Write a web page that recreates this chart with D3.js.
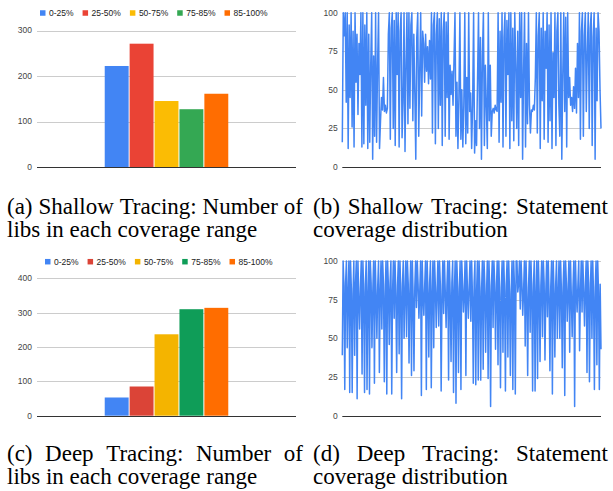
<!DOCTYPE html>
<html>
<head>
<meta charset="utf-8">
<script src="https://cdn.jsdelivr.net/npm/d3@7"></script>
<style>
  body { margin: 0; background: #fff; }
  svg { display: block; }
</style>
</head>
<body>
<script>
// ----- DATA -----
const seriesNames = ["0-25%", "25-50%", "50-75%", "75-85%", "85-100%"];
const shallowCounts = [222, 271, 145, 127, 161];
const deepCounts = [53, 85, 237, 310, 314];
const shallowColors = ["#4285F4", "#EA4335", "#FBBC04", "#34A853", "#FF6D01"];
const deepColors = ["#4285F4", "#DB4437", "#F4B400", "#0F9D58", "#FF6D00"];
const shallowTicks = [0, 100, 200, 300];
const deepTicks = [0, 100, 200, 300, 400];
const coverageTicks = [0, 25, 50, 75, 100];

// statement coverage per lib
const shallowCoverage = [
  16,100,85,100,42,
  100,12,92,45,100,26,88,13,100,55,
  86,34,80,60,
  100,13,100,15,92,40,100,12,
  86,16,66,100,5,72,20,
  100,16,66,100,12,30,45,
  37,58,36,40,35,38,
  86,100,18,90,100,25,95,14,100,
  60,100,13,88,100,19,42,100,10,67,100,28,
  100,38,92,100,30,86,48,
  5,84,100,20,62,100,33,88,
  80,55,86,62,78,54,82,57,
  100,22,92,100,15,86,100,25,96,40,100,14,88,100,20,94,45,100,18,66,
  47,62,40,70,
  100,20,55,12,45,100,18,50,13,40,100,15,58,22,100,36,48,12,40,100,9,30,14,56,
  100,25,
  84,5,72,100,14,66,
  40,12,100,30,66,20,
  36,38,35,40,37,36,
  100,16,88,42,100,13,84,100,20,95,60,100,12,
  100,30,90,17,100,66,25,88,14,100,
  45,100,5,62,100,13,80,28,100,40,22,
  37,36,40,37,58,
  100,22,85,100,12,90,43,100,18,88,64,100,16,92,30,100,
  12,74,45,100,14,88,100,40,20,
  100,5,60,100,36,97,13,100,45,
  58,40,45,36,52,38,64,35,80,45,
  100,18,88,100,20,85,100,36,74,100,25,90,
  100,14,84,100,5,90,43,100,
  88,50,25
];

const deepCoverage = [
  39,100,84,17,86,100,44,80,100,15,100,82,15,78,100,39,85,100,11,100,76,56,
  83,100,27,100,80,15,85,100,17,79,100,14,100,86,44,80,100,21,100,78,50,84,
  100,28,80,100,56,100,85,22,77,100,14,100,83,46,86,100,14,80,100,63,100,78,
  28,84,100,40,100,80,11,85,100,50,79,100,51,100,86,34,80,100,26,100,77,29,
  83,100,70,100,85,63,80,100,13,100,78,65,84,100,17,100,80,38,86,100,18,79,
  100,44,100,83,57,80,100,58,100,85,16,77,100,66,100,80,57,84,100,23,100,78,
  35,86,100,15,80,100,8,100,83,28,80,100,17,100,85,67,79,100,26,100,80,63,
  84,100,61,100,77,21,86,100,20,80,100,23,
  100,83,23,80,100,30,100,85,41,78,100,24,100,80,6,84,100,57,100,86,43,80,
  100,33,100,77,18,83,100,41,100,80,16,85,100,38,100,79,26,80,100,17,100,84,
  14,100,100,80,85,100,69,100,86,65,80,100,45,100,77,26,83,100,54,100,80,16,
  85,100,16,79,100,24,100,80,35,84,100,51,100,86,36,80,100,64,100,77,29,83,
  100,14,100,80,38,85,100,50,79,100,50,100,80,31,84,100,13,100,86,61,80,100,
  41,100,77,51,83,100,6,100,80,67,85,100,42,79,100,67,100,80,58,84,100,28,
  100,86,22,80,100,50,100,77,17,83,100,33,100,80,17,85,43
];

const captions = [
  ["(a) Shallow Tracing: Number of", "libs in each coverage range"],
  ["(b) Shallow Tracing: Statement", "coverage distribution"],
  ["(c) Deep Tracing: Number of", "libs in each coverage range"],
  ["(d) Deep Tracing: Statement", "coverage distribution"]
];

const W = 613, H = 491;
const sans = "'Liberation Sans', Arial, sans-serif";
const serif = "'Liberation Serif', 'Times New Roman', serif";

const svg = d3.select("body").append("svg")
  .attr("width", W).attr("height", H);

// ----- helpers -----
function yAxisGrid(g, yScale, ticks, x0, x1, labelX) {
  // gridlines
  g.selectAll(".grid").data(ticks).enter().append("line")
    .attr("x1", x0).attr("x2", x1)
    .attr("y1", d => Math.round(yScale(d)) + 0.5)
    .attr("y2", d => Math.round(yScale(d)) + 0.5)
    .attr("stroke", d => d === 0 ? "#333" : "#ccc")
    .attr("stroke-width", 1);
  // labels
  g.selectAll(".lab").data(ticks).enter().append("text")
    .attr("x", labelX)
    .attr("y", d => yScale(d))
    .attr("dy", "0.35em")
    .attr("text-anchor", "end")
    .attr("font-family", sans)
    .attr("font-size", 8.5)
    .attr("fill", "#444")
    .text(d => d);
}

function barChart(opts) {
  const g = svg.append("g");
  const y = d3.scaleLinear().domain(opts.yDomain).range(opts.yRange);
  yAxisGrid(g, y, opts.ticks, opts.x0, opts.x1, opts.labelX);

  // one category, five series, group centred in the plot
  const mid = (opts.x0 + opts.x1) / 2;
  const gw = (opts.x1 - opts.x0) * 0.477;
  const x = d3.scaleBand().domain(seriesNames)
    .range([mid - gw / 2, mid + gw / 2])
    .paddingInner(0.04);

  g.selectAll(".bar").data(opts.counts).enter().append("rect")
    .attr("x", (d, i) => x(seriesNames[i]))
    .attr("width", x.bandwidth())
    .attr("y", d => y(d))
    .attr("height", d => y(0) - y(d))
    .attr("fill", (d, i) => opts.colors[i]);

  // baseline on top of bars
  g.append("line")
    .attr("x1", opts.x0).attr("x2", opts.x1)
    .attr("y1", Math.round(y(0)) + 0.5).attr("y2", Math.round(y(0)) + 0.5)
    .attr("stroke", "#333");

  // legend
  const lg = g.append("g");
  let cx = opts.legendX;
  seriesNames.forEach((name, i) => {
    lg.append("rect")
      .attr("x", cx).attr("y", opts.legendY - 2.75)
      .attr("width", 5.5).attr("height", 5.5)
      .attr("fill", opts.colors[i]);
    const t = lg.append("text")
      .attr("x", cx + 9).attr("y", opts.legendY)
      .attr("dy", "0.35em")
      .attr("font-family", sans)
      .attr("font-size", 8.5)
      .attr("fill", "#222")
      .text(name);
    cx = cx + 9 + t.node().getComputedTextLength() + 9;
  });
}

function lineChart(opts) {
  const g = svg.append("g");
  const y = d3.scaleLinear().domain([0, 100]).range(opts.yRange);
  const x = d3.scaleLinear().domain([0, opts.values.length - 1]).range([opts.x0, opts.x1]);
  yAxisGrid(g, y, coverageTicks.filter(d => d !== 0), opts.x0, opts.x1, opts.labelX);
  yAxisGrid(g, y, [0], opts.x0, opts.x1, opts.labelX);

  g.append("path")
    .datum(opts.values)
    .attr("fill", "none")
    .attr("stroke", "#4285F4")
    .attr("stroke-width", 1.5)
    .attr("stroke-linejoin", "round")
    .attr("d", d3.line().x((d, i) => x(i)).y(d => y(d)));
}

function caption(lines, x0, x1, y0, y1) {
  const g = svg.append("g")
    .attr("font-family", serif)
    .attr("font-size", 23)
    .attr("fill", "#000");
  // first line justified word by word
  const words = lines[0].split(" ");
  const nodes = words.map(w => g.append("text").attr("y", y0).text(w));
  const widths = nodes.map(n => n.node().getComputedTextLength());
  const gap = (x1 - x0 - d3.sum(widths)) / (words.length - 1);
  let cx = x0;
  nodes.forEach((n, i) => { n.attr("x", cx); cx += widths[i] + gap; });
  // last line left aligned
  g.append("text").attr("x", x0).attr("y", y1).text(lines[1]);
}

// ----- (a) -----
barChart({
  counts: shallowCounts, colors: shallowColors, ticks: shallowTicks,
  yDomain: [0, 300], yRange: [167, 30.5],
  x0: 37, x1: 296, labelX: 32, legendX: 40, legendY: 13
});

// ----- (b) -----
lineChart({ values: shallowCoverage, yRange: [167, 12.7], x0: 342.3, x1: 601, labelX: 337.7 });

// ----- (c) -----
barChart({
  counts: deepCounts, colors: deepColors, ticks: deepTicks,
  yDomain: [0, 400], yRange: [415.7, 278.3],
  x0: 37, x1: 296, labelX: 32, legendX: 45, legendY: 261.7
});

// ----- (d) -----
lineChart({ values: deepCoverage, yRange: [415.7, 261], x0: 342.3, x1: 601, labelX: 337.7 });

// ----- captions -----
caption(captions[0], 7, 303, 214, 237);
caption(captions[1], 313, 608, 214, 237);
caption(captions[2], 7, 303, 461, 484);
caption(captions[3], 313, 608, 461, 484);
</script>
</body>
</html>
